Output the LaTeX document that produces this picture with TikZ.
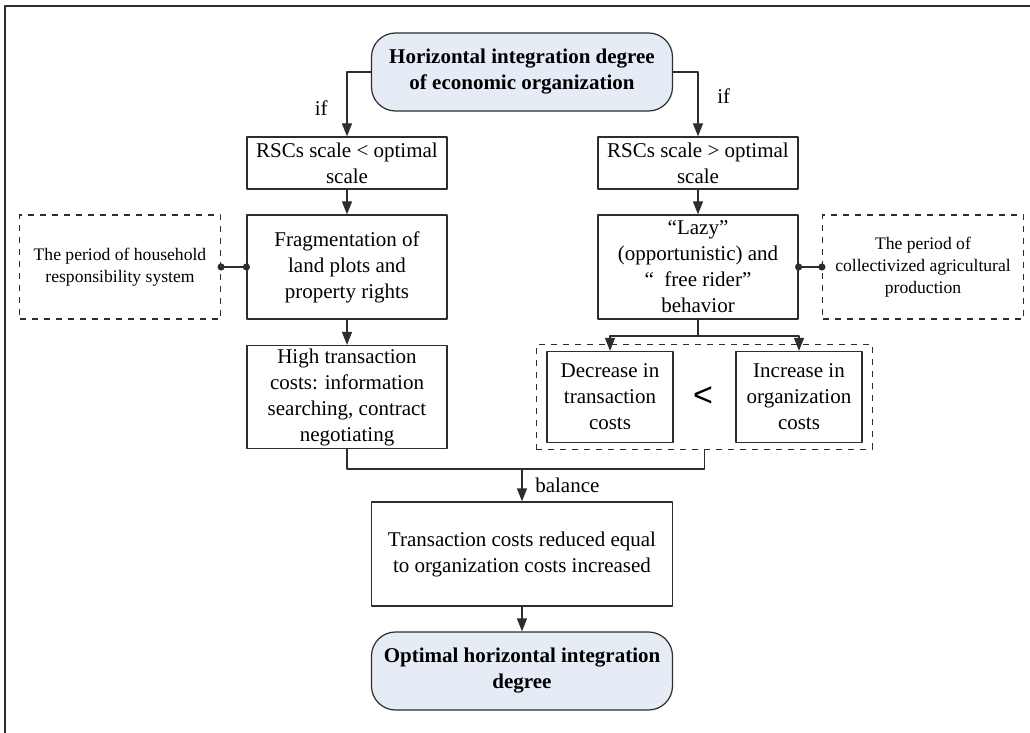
\documentclass[tikz,border=0pt]{standalone}
\usepackage{fontspec}
\setmainfont{Liberation Serif}
\newfontfamily\ltsans{Liberation Sans}
\usetikzlibrary{arrows.meta,fit}
\definecolor{linec}{RGB}{45,45,45}
\definecolor{paleblue}{RGB}{230,236,246}
\newcommand{\normtxt}{\fontsize{10.5}{13}\selectfont}
\newcommand{\smalltxt}{\fontsize{8.8}{11}\selectfont}
\tikzset{
  box/.style={draw=linec, line width=0.6pt, align=center, inner sep=1pt, font=\normtxt},
  sidebox/.style={draw=linec, line width=0.6pt, dashed, align=center, inner sep=1pt,
    minimum width=100.5pt, minimum height=52pt, font=\smalltxt},
  endbox/.style={draw=linec, line width=0.6pt, fill=paleblue, rounded corners=12pt, align=center,
    minimum width=150.5pt, minimum height=39pt, font=\normtxt\bfseries},
  arr/.style={->, draw=linec, line width=0.6pt},
  link/.style={draw=linec, line width=0.6pt},
}
\begin{document}
\begin{tikzpicture}[x=0.5pt, y=-0.5pt, line join=round, >={Triangle[width=5pt,length=6.5pt]}]
	\useasboundingbox (0,0) rectangle (1030,733);
	% frame
	\coordinate (FA) at (1030,6);
	\coordinate (FB) at (5,6);
	\coordinate (FC) at (5,733);
	\draw[linec, line width=0.6pt] (FA)--(FB)--(FC);
	% nodes
	\node[endbox] (top) at (522,72) {Horizontal integration degree\\of economic organization};
	\node[box, minimum width=100pt, minimum height=26pt] (L1) at (347,163) {RSCs scale < optimal\\scale};
	\node[box, minimum width=100pt, minimum height=26pt] (R1) at (698,163) {RSCs scale > optimal\\scale};
	\node[box, minimum width=100pt, minimum height=52pt] (L2) at (347,267) {Fragmentation of\\land plots and\\property rights};
	\node[box, minimum width=100pt, minimum height=52pt] (R2) at (698,267) {“Lazy”\\(opportunistic) and\\“\ \ free rider”\\behavior};
	\node[sidebox] (hh) at (120,267) {The period of household\\responsibility system};
	\node[sidebox] (cp) at (923,267) {The period of\\collectivized agricultural\\production};
	\node[box, minimum width=100pt, minimum height=51.5pt] (L3) at (347,397) {High transaction\\costs: information\\searching, contract\\negotiating};
	\node[box, minimum width=63pt, minimum height=45.5pt] (dec) at (610,397) {Decrease in\\transaction\\costs};
	\node[box, minimum width=63pt, minimum height=45.5pt] (inc) at (799,397) {Increase in\\organization\\costs};
	\node[font=\ltsans\fontsize{17}{17}\selectfont] (lt) at (703,397) {<};
	\node[draw=linec, line width=0.6pt, dashed, inner xsep=5pt, inner ysep=3pt, fit=(dec)(inc)] (grp) {};
	\node[box, minimum width=150.5pt, minimum height=52pt] (mid) at (522,554) {Transaction costs reduced equal\\to organization costs increased};
	\node[endbox] (bot) at (522,671) {Optimal horizontal integration\\degree};
	% connectors
	\draw[arr] (top.west) -| (L1.north) node[pos=0.75, left, font=\normtxt, xshift=-6pt, yshift=-2pt]{if};
	\draw[arr] (top.east) -| (R1.north) node[pos=0.75, right, font=\normtxt, xshift=6pt, yshift=4pt]{if};
	\draw[arr] (L1) -- (L2);
	\draw[arr] (R1) -- (R2);
	\draw[arr] (L2) -- (L3);
	\coordinate (br) at (698,336);
	\draw[link] (R2.south) -- (br);
	\draw[arr] (br) -| (dec.north);
	\draw[arr] (br) -| (inc.north);
	\coordinate (jn) at (522,469);
	\draw[link] (L3.south) |- (jn) -| (grp.south);
	\draw[arr] (jn) -- (mid.north) node[midway, right, font=\normtxt, xshift=3pt]{balance};
	\draw[arr] (mid) -- (bot);
	\draw[link] (hh.east) -- (L2.west);
	\draw[link] (R2.east) -- (cp.west);
	\foreach \p in {hh.east, L2.west, R2.east, cp.west} \fill[linec] (\p) circle (1.8pt);
\end{tikzpicture}
\end{document}
